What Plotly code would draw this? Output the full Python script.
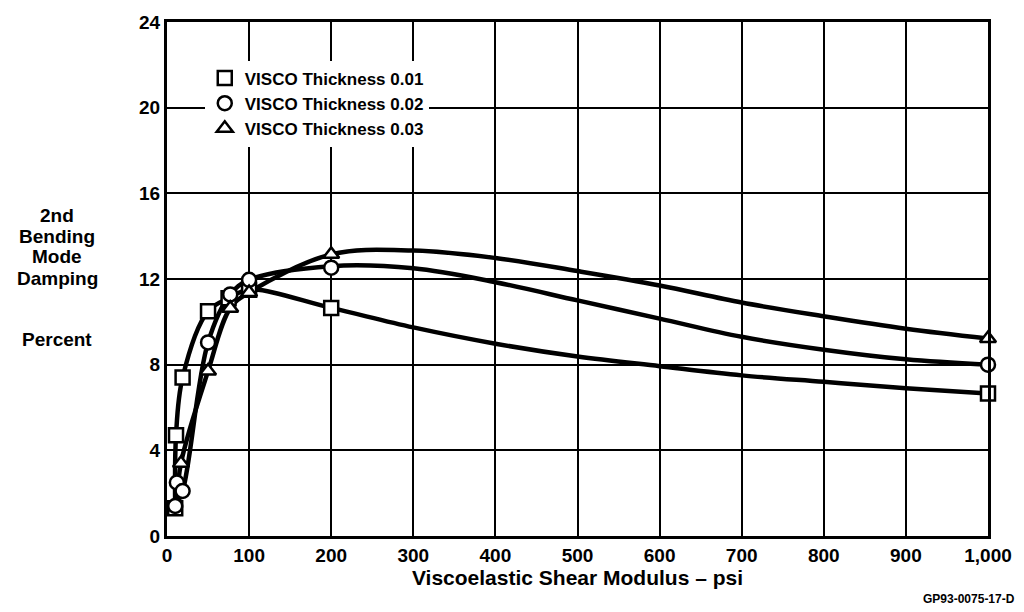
import plotly.graph_objects as go

# ---- data ----
# measured points (markers)
sq_x = [10, 11, 19, 50, 75, 100, 200, 1000]
sq_y = [1.3, 4.7, 7.4, 10.5, 11.1, 11.5, 10.65, 6.65]
ci_x = [10, 12, 19, 50, 77, 100, 200, 1000]
ci_y = [1.4, 2.5, 2.1, 9.04, 11.28, 11.96, 12.53, 8.0]
tr_x = [17, 50, 77, 100, 200, 1000]
tr_y = [3.4, 7.7, 10.64, 11.37, 13.15, 9.22]

# faired curves
sq_cx = [10, 11, 19, 50, 75, 100, 200, 300, 400, 500, 600, 700, 800, 900, 1000]
sq_cy = [1.3, 4.7, 7.4, 10.5, 11.1, 11.5, 10.65, 9.74, 8.98, 8.38, 7.93, 7.5, 7.2, 6.9, 6.65]
ci_cx = [10, 19, 50, 77, 100, 200, 300, 400, 500, 600, 700, 800, 900, 1000]
ci_cy = [1.4, 2.1, 9.04, 11.28, 11.96, 12.6, 12.5, 11.85, 11.0, 10.15, 9.3, 8.7, 8.25, 8.0]
tr_cx = [12, 17, 50, 77, 100, 200, 300, 400, 500, 600, 700, 800, 900, 1000]
tr_cy = [1.5, 3.4, 7.7, 10.64, 11.37, 13.15, 13.33, 12.98, 12.37, 11.7, 10.9, 10.26, 9.68, 9.22]

names = ["VISCO Thickness 0.01", "VISCO Thickness 0.02", "VISCO Thickness 0.03"]
symbols = ["square", "circle", "triangle-up"]

x_ticks = [0, 100, 200, 300, 400, 500, 600, 700, 800, 900, 1000]
x_ticktext = ["0", "100", "200", "300", "400", "500", "600", "700", "800", "900", "1,000"]
y_ticks = [0, 4, 8, 12, 16, 20, 24]

y_title_lines = ["2nd", "Bending", "Mode", "Damping", "Percent"]

FONT = "Liberation Sans"

fig = go.Figure()

curves = [(sq_cx, sq_cy), (ci_cx, ci_cy), (tr_cx, tr_cy)]
for cx, cy in curves:
    fig.add_trace(go.Scatter(x=cx, y=cy, mode="lines",
                             line=dict(color="black", width=4.5, shape="spline", smoothing=1.0),
                             showlegend=False, hoverinfo="skip"))

pts = [(sq_x, sq_y), (ci_x, ci_y), (tr_x, tr_y)]
for (px, py), nm, sym in zip(pts, names, symbols):
    fig.add_trace(go.Scatter(x=px, y=py, mode="markers", name=nm,
                             marker=dict(symbol=sym, size=14, color="white",
                                         line=dict(color="black", width=2.5)),
                             cliponaxis=False))

fig.update_layout(
    width=1024, height=612,
    margin=dict(l=167, r=35, t=17, b=76),
    paper_bgcolor="white", plot_bgcolor="white",
    font=dict(family=FONT, size=19, color="black", weight="bold"),
    showlegend=True,
    legend=dict(x=0.046, y=0.925, xanchor="left", yanchor="top", bgcolor="white",
                font=dict(family=FONT, size=17, color="black", weight="bold"),
                tracegroupgap=0, itemwidth=30),
    xaxis=dict(range=[0, 1000], tickvals=x_ticks, ticktext=x_ticktext, showgrid=True,
               gridcolor="black", gridwidth=2, showline=True, linecolor="black", linewidth=3,
               mirror=True, ticks="", zeroline=False,
               tickfont=dict(family=FONT, size=19, color="black", weight="bold"),
               title=dict(text="Viscoelastic Shear Modulus – psi", standoff=6,
                          font=dict(family=FONT, size=21, color="black", weight="bold"))),
    yaxis=dict(range=[0, 24], tickvals=y_ticks, showgrid=True, gridcolor="black", gridwidth=2,
               showline=True, linecolor="black", linewidth=3, mirror=True, ticks="", zeroline=False,
               tickfont=dict(family=FONT, size=19, color="black", weight="bold")),
)

line_px = [212, 233, 254, 276, 337]
for txt, py in zip(y_title_lines, line_px):
    fig.add_annotation(text=txt, xref="paper", yref="paper",
                       x=(57 - 167) / 822, y=(536 - py) / 519.5, xanchor="center", yanchor="middle",
                       showarrow=False,
                       font=dict(family=FONT, size=19, color="black", weight="bold"))
fig.add_annotation(text="GP93-0075-17-D", xref="paper", yref="paper",
                   x=(1018 - 167) / 822, y=(536 - 600) / 519.5, xanchor="right", yanchor="middle",
                   showarrow=False, font=dict(family=FONT, size=12, color="black", weight="bold"))

fig.write_html("out.html")
